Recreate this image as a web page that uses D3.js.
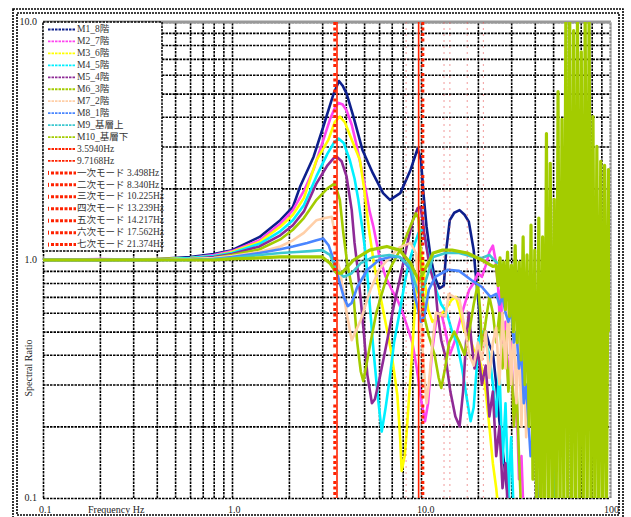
<!DOCTYPE html>
<html>
<head>
<meta charset="utf-8">
<script src="https://cdn.jsdelivr.net/npm/d3@7"></script>
<style>
  body { margin: 0; background: #fff; }
  text { font-family: "Liberation Serif", "DejaVu Serif", "Noto Sans CJK JP", serif; fill: #222; }
  .leg text { font-size: 9.5px; fill: #333; }
</style>
</head>
<body>
<svg width="631" height="517"></svg>
<script>
// spectral ratio curves, [frequency Hz, ratio]
var m1 = [[0.1,1.0],[0.2,1.0],[0.4,1.01],[0.6,1.03],[0.8,1.06],[1.0,1.1],[1.4,1.25],[1.8,1.47],[2.1,1.67],[2.29,2.03],[2.7,2.71],[3.04,3.63],[3.25,4.3],[3.45,5.0],[3.68,5.65],[3.85,5.4],[4.04,5.0],[4.39,4.0],[4.9,2.9],[5.57,2.31],[6.3,1.91],[6.85,1.79],[7.77,1.91],[8.8,2.39],[9.6,2.94],[10.0,2.63],[10.3,1.91],[10.7,1.38],[11.2,1.05],[11.8,0.85],[12.5,0.76],[13.2,0.78],[13.6,1.1],[14.2,1.47],[15.0,1.58],[16.0,1.62],[17.0,1.55],[17.9,1.45],[19.0,1.1],[19.3,0.94],[20.3,0.62],[20.7,0.49],[22,0.5],[23,0.44],[24,0.41],[25,0.3],[26,0.21],[27,0.16],[28.5,0.11],[30,0.08]];
var m2 = [[0.1,1.0],[0.2,1.01],[0.4,1.0],[0.6,1.02],[0.8,1.05],[1.0,1.09],[1.4,1.21],[1.8,1.42],[2.1,1.62],[2.4,1.95],[2.7,2.4],[3.04,3.19],[3.3,3.9],[3.5,4.35],[3.66,4.57],[3.85,4.5],[4.04,4.25],[4.3,3.7],[4.54,3.09],[4.8,2.5],[5.1,1.97],[5.35,1.6],[5.6,1.38],[6.0,1.05],[6.5,0.85],[7.0,0.75],[7.5,0.68],[8.0,0.6],[8.5,0.52],[9.0,0.45],[9.5,0.35],[10.0,0.26],[10.5,0.21],[10.9,0.25],[11.4,0.4],[12,0.55],[12.8,0.6],[13.5,0.5],[14.2,0.4],[15,0.45],[16,0.55],[17,0.65],[18,0.75],[19,0.8],[20,0.88],[21,0.85],[22,0.95],[23,1.08],[24,1.15],[24.8,1.0],[25.5,0.8],[26,0.6],[26.5,0.75],[27,0.45],[28,0.55],[29,0.3],[30,0.45],[31,0.2],[32,0.28],[33,0.12],[34,0.15],[35,0.08]];
var m3 = [[0.1,1.0],[0.2,1.0],[0.4,1.01],[0.6,1.02],[0.8,1.04],[1.0,1.08],[1.4,1.19],[1.8,1.38],[2.1,1.55],[2.4,1.82],[2.8,2.63],[3.23,3.19],[3.5,3.8],[3.72,4.0],[3.95,3.8],[4.3,3.2],[4.75,2.63],[5.0,2.0],[5.3,1.35],[5.6,1.0],[5.8,0.85],[6.2,0.66],[6.6,0.51],[7.0,0.4],[7.5,0.27],[7.75,0.18],[7.9,0.13],[8.2,0.15],[8.4,0.19],[8.9,0.37],[9.3,0.64],[9.6,0.95],[9.9,1.15],[10.2,1.0],[10.5,0.8],[10.9,0.62],[11.5,0.55],[12.5,0.58],[13.5,0.62],[14.5,0.68],[15.3,0.7],[16,0.62],[17,0.5],[18,0.48],[19,0.42],[20,0.4],[21,0.35],[22,0.28],[23,0.2],[24,0.14],[25,0.11],[26,0.08]];
var m4 = [[0.1,1.0],[0.2,1.0],[0.4,1.0],[0.6,1.02],[0.8,1.04],[1.0,1.07],[1.4,1.17],[1.8,1.32],[2.1,1.47],[2.4,1.7],[2.8,2.25],[3.2,2.8],[3.45,3.1],[3.66,3.24],[3.9,3.1],[4.2,2.63],[4.45,2.2],[4.66,1.79],[4.9,1.35],[5.1,1.05],[5.3,0.72],[5.6,0.42],[5.9,0.27],[6.2,0.19],[6.5,0.24],[6.8,0.31],[7.2,0.45],[7.7,0.6],[8.2,0.8],[8.6,0.97],[9.2,1.15],[9.7,1.3],[10.2,1.35],[10.6,1.2],[11.2,0.95],[12,0.75],[12.8,0.65],[13.7,0.6],[14.6,0.5],[15.5,0.45],[16.5,0.35],[17.5,0.26],[18.3,0.21],[19,0.24],[19.7,0.35],[20.3,0.47],[21.2,0.5],[22,0.45],[23,0.4],[24,0.3],[25,0.22],[26,0.35],[27,0.14],[28,0.25],[29,0.1],[30,0.18],[31,0.08]];
var m5 = [[0.1,1.0],[0.2,1.0],[0.4,1.0],[0.6,1.01],[0.8,1.03],[1.0,1.06],[1.4,1.14],[1.8,1.27],[2.1,1.4],[2.4,1.6],[2.8,2.1],[3.2,2.5],[3.45,2.68],[3.58,2.72],[3.8,2.6],[4.04,2.24],[4.3,1.62],[4.45,1.18],[4.6,0.95],[4.8,0.68],[5.0,0.48],[5.2,0.33],[5.5,0.25],[5.7,0.26],[6.0,0.31],[6.4,0.4],[6.8,0.51],[7.2,0.65],[7.7,0.82],[8.4,1.14],[9.0,1.45],[9.6,1.65],[9.9,1.67],[10.2,1.5],[10.4,1.3],[11.1,0.94],[11.9,0.77],[12.3,0.58],[12.8,0.46],[13.5,0.39],[14.3,0.28],[15.2,0.22],[16.0,0.2],[16.7,0.28],[17.3,0.45],[17.9,0.6],[18.5,0.45],[19.2,0.35],[20,0.42],[21,0.3],[22,0.36],[23,0.22],[24,0.28],[25,0.15],[26,0.2],[27,0.11],[28,0.14],[29,0.08]];
var m6 = [[0.1,1.0],[0.2,1.0],[0.4,1.0],[0.6,1.01],[0.8,1.02],[1.0,1.05],[1.4,1.11],[1.8,1.22],[2.1,1.34],[2.4,1.5],[2.8,1.79],[3.2,2.0],[3.5,2.1],[3.72,1.79],[3.88,1.3],[4.05,1.0],[4.2,0.85],[4.4,0.7],[4.6,0.45],[4.8,0.34],[4.95,0.31],[5.1,0.35],[5.35,0.43],[5.8,0.6],[6.2,0.72],[6.6,0.85],[7.0,0.95],[7.5,1.05],[8.0,1.15],[8.5,1.3],[9.0,1.45],[9.4,1.57],[9.7,1.5],[9.9,1.1],[10.2,0.75],[10.4,0.58],[11.0,0.48],[11.8,0.4],[12.4,0.32],[12.8,0.29],[13.4,0.35],[14.1,0.45],[15.0,0.5],[16,0.45],[17,0.4],[18,0.5],[19,0.65],[20,0.8],[20.6,0.6],[21,0.42],[22,0.55],[23,0.7],[24,0.6],[25,0.45],[26,0.6],[27,0.35],[28,0.5],[29,0.28],[30,0.4],[31,0.2],[32,0.3],[33,0.15],[34,0.08]];
var m7 = [[0.1,1.0],[0.2,1.0],[0.4,1.0],[0.6,1.01],[0.8,1.02],[1.0,1.04],[1.4,1.08],[1.8,1.14],[2.1,1.21],[2.4,1.3],[2.8,1.47],[3.1,1.5],[3.37,1.52],[3.5,1.3],[3.6,1.0],[3.72,0.91],[4.04,0.6],[4.3,0.46],[4.5,0.5],[4.8,0.56],[5.4,0.75],[6.0,0.91],[6.85,1.03],[7.7,1.13],[8.8,1.18],[9.4,1.07],[9.8,0.7],[10.3,0.37],[10.7,0.25],[11.0,0.3],[11.5,0.45],[12,0.6],[13.5,0.58],[14,0.72],[16,0.68],[17,0.52],[18,0.4],[19,0.36],[20,0.45],[21,0.38],[22,0.5],[23,0.32],[24,0.45],[25,0.52],[26,0.3],[27,0.6],[28,0.35],[29,0.65],[30,0.3],[31,0.55],[32,0.25],[33,0.5],[34,0.2],[35,0.45],[36,0.18],[38,0.4],[40,0.15],[42,0.3],[44,0.1],[46,0.2],[48,0.08]];
var m8 = [[0.1,1.0],[0.2,1.0],[0.4,1.0],[0.6,1.0],[0.8,1.01],[1.0,1.03],[1.4,1.07],[1.8,1.11],[2.1,1.14],[2.5,1.18],[2.8,1.21],[3.04,1.23],[3.25,1.15],[3.45,1.0],[3.72,0.8],[3.9,0.7],[4.1,0.64],[4.3,0.66],[4.6,0.77],[5.2,0.91],[6.0,1.0],[6.85,1.03],[7.7,1.03],[8.8,0.91],[9.3,0.7],[10.0,0.55],[10.4,0.58],[11.0,0.75],[11.9,0.85],[13.9,0.91],[15.9,0.9],[18.6,0.82],[21,0.77],[23.3,0.7],[25,0.72],[26,0.65],[27,0.7],[28,0.6],[29,0.55],[30,0.62],[31,0.45],[32,0.5],[33,0.35],[34,0.42],[35,0.25],[36,0.3],[38,0.15],[40,0.2],[42,0.08]];
var m9 = [[0.1,1.0],[0.2,1.0],[0.4,1.0],[0.6,1.0],[0.8,1.01],[1.0,1.02],[1.4,1.05],[1.8,1.07],[2.2,1.08],[2.6,1.09],[3.0,1.1],[3.3,1.05],[3.58,0.91],[3.9,0.85],[4.3,0.88],[4.8,0.97],[5.6,1.03],[6.8,1.05],[7.7,1.03],[8.8,0.94],[9.3,0.8],[9.9,0.7],[10.5,0.8],[11.6,1.03],[13.5,1.07],[15.9,1.07],[19,1.03],[21,1.02],[23,1.05],[25,0.98],[27,0.95],[29,0.9],[31,0.92],[33,0.85],[35,0.88],[37,0.75],[39,0.8],[41,0.6],[43,0.7],[45,0.45],[47,0.5],[49,0.3],[51,0.08]];
var m10 = [[0.1,1.0],[0.2,1.0],[0.4,1.0],[0.6,1.0],[0.8,1.0],[1.0,1.01],[1.4,1.02],[1.8,1.03],[2.2,1.03],[2.6,1.03],[3.0,1.03],[3.3,0.97],[3.58,0.88],[3.8,0.88],[4.05,0.93],[4.4,1.0],[5.35,1.1],[6.6,1.14],[7.7,1.1],[8.8,0.97],[9.3,0.88],[9.8,0.82],[10.4,0.9],[11.6,1.07],[13,1.1],[14.6,1.1],[17.6,1.07],[19.4,1.03],[21,1.0],[24,0.94],
  [25,0.95],[25.6,0.78],[26.2,1.02],[26.8,0.7],[27.4,0.98],[28,0.62],[28.7,1.08],[29.4,0.58],[30.1,0.95],[30.8,0.5],[31.5,1.15],[32.3,0.45],[33.1,0.98],[33.9,0.38],[34.7,1.25],[35.5,0.3],[36.4,1.05],[37.3,0.2],[38.2,1.4],[39.1,0.12],[40,1.1],[41,0.08],[42,1.5],[43,0.08],[44,1.25],[45,0.08],[46.1,3.4],[47.2,0.08],[48.3,2.55],[49.5,0.08],[50.7,1.8],[51.9,0.08],[53.1,5.1],[54.4,0.08],[55.7,3.9],[57,0.08],[58.4,11],[59.8,0.08],[61.2,11],[62.7,0.08],[64.2,9.2],[65.7,0.08],[67.3,11],[68.9,0.08],[70.5,7.5],[72.2,0.08],[73.9,11],[75.7,0.08],[77.5,11],[79.4,0.08],[81.3,4.0],[83.2,0.08],[85.2,3.0],[87.2,0.08],[89.3,2.6],[91.4,0.08],[93.6,2.5],[95.8,0.08],[98.1,2.4],[100,0.5]];

var series = [m1, m2, m3, m4, m5, m6, m7, m8, m9, m10];
var seriesNames = ["M1_8階", "M2_7階", "M3_6階", "M4_5階", "M5_4階", "M6_3階", "M7_2階", "M8_1階", "M9_基層上", "M10_基層下"];
var seriesColors = ["#0d1f8c", "#ff44f0", "#ffff00", "#00f0ff", "#8e2a96", "#a3cc00", "#ffcfa8", "#4a86ff", "#3cc8d0", "#a3cc00"];

var refFreqs = [3.5940, 9.7168];
var refNames = ["3.5940Hz", "9.7168Hz"];
var modeFreqs = [3.498, 8.340, 10.225, 13.239, 14.217, 17.562, 21.374];
var modeNames = ["一次モード 3.498Hz", "二次モード 8.340Hz", "三次モード 10.225Hz", "四次モード 13.239Hz", "五次モード 14.217Hz", "六次モード 17.562Hz", "七次モード 21.374Hz"];

var xTicks = [0.1, 1, 10, 100];
var yTicks = [0.1, 1, 10];

var svg = d3.select("svg"),
    pL = 43, pR = 610, pT = 22, pB = 498,
    x = d3.scaleLog().domain([0.1, 100]).range([pL, pR]),
    y = d3.scaleLog().domain([0.1, 10]).range([pB, pT]);

// outer double frame
[[13, 9, 610, 510], [17, 13, 602, 502]].forEach(function (r) {
  svg.append("rect").attr("x", r[0]).attr("y", r[1]).attr("width", r[2]).attr("height", r[3])
    .attr("fill", "none").attr("stroke", "#000").attr("stroke-width", 1.6).attr("stroke-dasharray", "2,1");
});

// log grid: every 1..9 of each decade
var gridX = [], gridY = [];
[0.1, 1, 10].forEach(function (d) { for (var k = 1; k < 10; k++) gridX.push(+(k * d).toPrecision(3)); });
gridX.push(100);
[0.1, 1].forEach(function (d) { for (var k = 1; k < 10; k++) gridY.push(+(k * d).toPrecision(3)); });
gridY.push(10);

var gx = svg.append("g").attr("transform", "translate(0," + pB + ")")
  .call(d3.axisBottom(x).tickValues(gridX).tickSize(-(pB - pT)).tickFormat(""));
var gy = svg.append("g").attr("transform", "translate(" + pL + ",0)")
  .call(d3.axisLeft(y).tickValues(gridY).tickSize(-(pR - pL)).tickFormat(""));
[gx, gy].forEach(function (g) {
  g.select(".domain").remove();
  g.selectAll("line").attr("stroke", "#000").attr("stroke-width", 1.6).attr("stroke-dasharray", "2.5,1");
});

// top and right edges are grey
svg.append("line").attr("x1", pL).attr("x2", pR + 1).attr("y1", pT).attr("y2", pT)
  .attr("stroke", "#999").attr("stroke-width", 3);
svg.append("line").attr("x1", pR + 1).attr("x2", pR + 1).attr("y1", pT).attr("y2", pB)
  .attr("stroke", "#bbb").attr("stroke-width", 1.5);

svg.append("clipPath").attr("id", "plot").append("rect")
  .attr("x", pL).attr("y", pT).attr("width", pR - pL).attr("height", pB - pT);

var line = d3.line().x(function (d) { return x(d[0]); }).y(function (d) { return y(d[1]); });

var curves = svg.append("g").attr("clip-path", "url(#plot)");
series.forEach(function (s, i) {
  curves.append("path").datum(s).attr("d", line)
    .attr("fill", "none").attr("stroke", seriesColors[i])
    .attr("stroke-width", i == 9 ? 3.2 : 2.6)
    .attr("stroke-linejoin", "round");
});

// reference peaks: solid red
refFreqs.forEach(function (f) {
  curves.append("line").attr("x1", x(f)).attr("x2", x(f)).attr("y1", pT).attr("y2", pB)
    .attr("stroke", "#ff2200").attr("stroke-width", 1.6);
});
// analysed modes: first and third drawn bold, the rest faint
modeFreqs.forEach(function (f, i) {
  var bold = (i == 0 || i == 2);
  curves.append("line").attr("x1", x(f)).attr("x2", x(f)).attr("y1", pT).attr("y2", pB)
    .attr("stroke", bold ? "#ff2200" : "#e84848")
    .attr("stroke-width", bold ? 3 : 1)
    .attr("stroke-opacity", bold ? 1 : 0.55)
    .attr("stroke-dasharray", bold ? "3,2.5,3,2.5,3,2.5,3,6" : "2,4");
});

// tick labels
svg.append("g").selectAll("text").data(yTicks).enter().append("text")
  .attr("x", 37).attr("y", function (d) { return y(d) + 1; })
  .attr("text-anchor", "end").attr("dominant-baseline", "middle")
  .style("font-size", "10px").text(d3.format(".1f"));

svg.append("clipPath").attr("id", "frame").append("rect")
  .attr("x", 0).attr("y", 0).attr("width", 619).attr("height", 517);
svg.append("g").attr("clip-path", "url(#frame)").selectAll("text").data(xTicks).enter().append("text")
  .attr("x", function (d) { return d == 100 ? x(d) - 6 : x(d) - 4; })
  .attr("y", 511).attr("dominant-baseline", "middle")
  .style("font-size", "10px").text(d3.format(".1f"));

svg.append("text").attr("x", 88).attr("y", 511).attr("dominant-baseline", "middle")
  .style("font-size", "10px").text("Frequency Hz");
svg.append("text").attr("transform", "translate(30,368) rotate(-90)")
  .attr("text-anchor", "middle").attr("dominant-baseline", "middle")
  .style("font-size", "10px").text("Spectral Ratio");

// legend
var items = [];
seriesNames.forEach(function (n, i) { items.push({ name: n, color: seriesColors[i], kind: "s" }); });
refNames.forEach(function (n) { items.push({ name: n, color: "#ff2200", kind: "r" }); });
modeNames.forEach(function (n) { items.push({ name: n, color: "#ff2200", kind: "m" }); });

var leg = svg.append("g").attr("class", "leg");
leg.append("rect").attr("x", pL).attr("y", pT).attr("width", 119).attr("height", 229)
  .attr("fill", "#fff").attr("stroke", "#000").attr("stroke-width", 1.5).attr("stroke-dasharray", "2.5,1");

var row = leg.selectAll("g.item").data(items).enter().append("g").attr("class", "item")
  .attr("transform", function (d, i) { return "translate(0," + (29.5 + i * 11.95) + ")"; });
row.append("line")
  .attr("x1", function (d) { return d.kind == "m" ? 51 : 48; }).attr("x2", 76)
  .attr("stroke", function (d) { return d.color; })
  .attr("stroke-width", function (d) { return d.kind == "m" ? 3 : 1.8; })
  .attr("stroke-dasharray", function (d) { return d.kind == "m" ? "3,1.5" : "2.5,1"; });
row.filter(function (d) { return d.kind == "m"; }).append("line")
  .attr("x1", 48.5).attr("x2", 48.5).attr("y1", -2).attr("y2", 2)
  .attr("stroke", "#ff2200").attr("stroke-width", 1);
row.append("text").attr("x", 77).attr("y", 0.5).attr("dominant-baseline", "middle")
  .text(function (d) { return d.name; });
</script>
</body>
</html>
